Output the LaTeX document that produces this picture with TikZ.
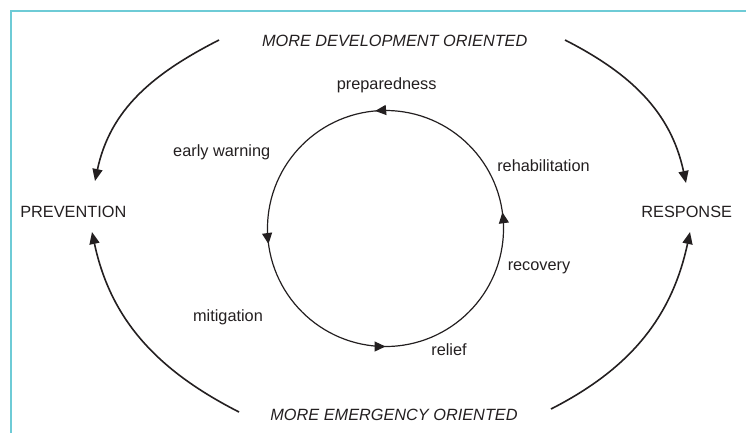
\documentclass[tikz,border=0pt]{standalone}
\usepackage{fontspec}
\setmainfont{Liberation Sans}
\usetikzlibrary{arrows.meta,decorations.markings}
\definecolor{ink}{RGB}{35,31,32}
\definecolor{framecol}{RGB}{110,203,214}
\begin{document}
\begin{tikzpicture}[x=1pt,y=1pt,
  lbl/.style={anchor=base,inner sep=0pt,text=ink,font=\fontsize{16.3}{19}\selectfont},
  orient/.style={lbl,font=\fontsize{16.3}{19}\selectfont\itshape},
  bigarrow/.style={draw=ink,line width=1.6pt,-{Triangle[length=12pt,width=10pt]}},
  cycleline/.style={draw=ink,line width=1.2pt},
  cyctip/.style={decoration={markings,
      mark=at position 0.022 with {\arrow{Triangle[length=11pt,width=10pt]}},
      mark=at position 0.264 with {\arrow{Triangle[length=11pt,width=10pt]}},
      mark=at position 0.521 with {\arrow{Triangle[length=11pt,width=10pt]}},
      mark=at position 0.750 with {\arrow{Triangle[length=11pt,width=10pt]}}},
    postaction=decorate}]
\useasboundingbox (0,0) rectangle (746,-432);
% frame running off the page on the right and bottom
\draw[framecol,line width=2pt] (11,-450) -- (11,-11) -- (770,-11);

% outer labels
\node[orient] (dev) at (394.7,-46) {MORE DEVELOPMENT ORIENTED};
\node[orient] (emg) at (394,-420.5) {MORE EMERGENCY ORIENTED};
\node[lbl] (prev) at (73.3,-217) {PREVENTION};
\node[lbl] (resp) at (686.7,-217) {RESPONSE};

% the cycle, with its direction marked by four tips
\coordinate (c) at (385.5,-228.5);
\draw[cycleline,cyctip] (c) circle[radius=118];

% phase labels
\node[lbl] (prep) at (386.7,-89) {preparedness};
\node[lbl] (warn) at (221.7,-156) {early warning};
\node[lbl] (rehab) at (543.5,-171) {rehabilitation};
\node[lbl] (recov) at (539,-270) {recovery};
\node[lbl] (mitig) at (228,-321) {mitigation};
\node[lbl] (relief) at (449,-355) {relief};

% connector end points
\coordinate (tl0) at (219,-40);
\coordinate (tl1) at (95,-181);
\coordinate (tr0) at (565,-40);
\coordinate (tr1) at (686,-183);
\coordinate (bl0) at (239,-412);
\coordinate (bl1) at (92,-232);
\coordinate (br0) at (551,-409);
\coordinate (br1) at (690,-232);

\draw[bigarrow] (tl0) to[out=207,in=78] (tl1);
\draw[bigarrow] (tr0) to[out=-27,in=102] (tr1);
\draw[bigarrow] (bl0) to[out=153,in=-78] (bl1);
\draw[bigarrow] (br0) to[out=27,in=-102] (br1);
\end{tikzpicture}
\end{document}
